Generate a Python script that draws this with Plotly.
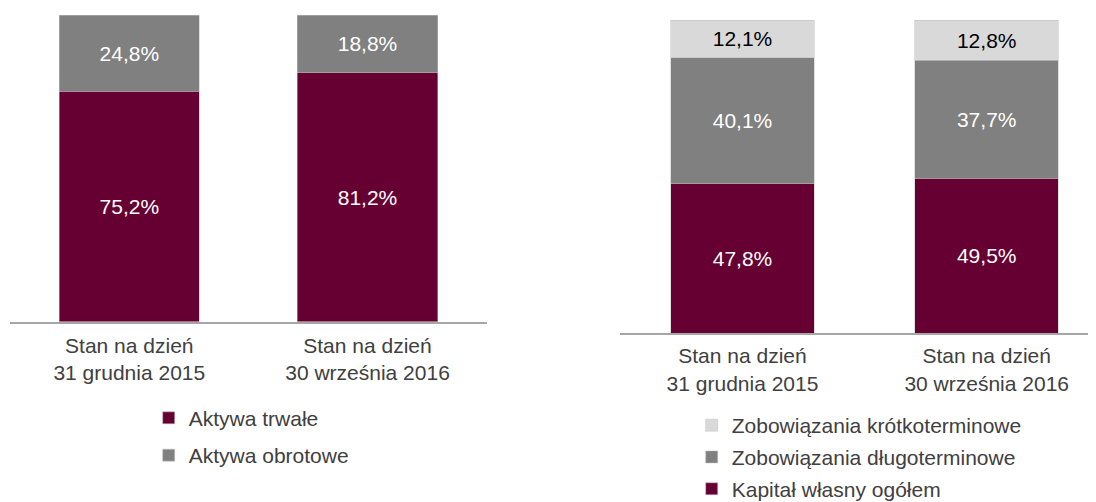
import plotly.graph_objects as go

# ---- data ----
categories = ["Stan na dzień<br>31 grudnia 2015", "Stan na dzień<br>30 września 2016"]
aktywa_trwale = [75.2, 81.2]
aktywa_obrotowe = [24.8, 18.8]
kapital_wlasny = [47.8, 49.5]
zobowiazania_dlugo = [40.1, 37.7]
zobowiazania_krotko = [12.1, 12.8]

PURPLE = "#660033"
GREY = "#808080"
LIGHT = "#d9d9d9"
TEXT = "#404040"
FONT = "Liberation Sans, Arial, sans-serif"

# the page body has an 8px default margin; the figure is sized so it ends at the window edge
OFF = 8
W, H = 1096 - OFF, 502 - OFF


def px(x):
    return (x - OFF) / W


def py(y):
    return 1 - (y - OFF) / H


def fmt(vals):
    return [f"{v:.1f}%".replace(".", ",") for v in vals]


def bar(name, y, color, txtcolor, xa, ya, legend, group, rank):
    return go.Bar(
        name=name, x=categories, y=y, text=fmt(y),
        marker=dict(color=color, line=dict(color="#bfbfbf", width=0.5)),
        textposition="inside", insidetextanchor="middle", textangle=0,
        constraintext="none",
        textfont=dict(family=FONT, size=21, color=txtcolor),
        xaxis=xa, yaxis=ya, legend=legend, legendgroup=group, legendrank=rank,
        hoverinfo="skip",
    )


fig = go.Figure()
fig.add_trace(bar("Aktywa trwałe", aktywa_trwale, PURPLE, "white", "x", "y", "legend", "a1", 1))
fig.add_trace(bar("Aktywa obrotowe", aktywa_obrotowe, GREY, "white", "x", "y", "legend", "a2", 2))
fig.add_trace(bar("Kapitał własny ogółem", kapital_wlasny, PURPLE, "white", "x2", "y2", "legend2", "b1", 3))
fig.add_trace(bar("Zobowiązania długoterminowe", zobowiazania_dlugo, GREY, "white", "x2", "y2", "legend2", "b2", 2))
fig.add_trace(bar("Zobowiązania krótkoterminowe", zobowiazania_krotko, LIGHT, "black", "x2", "y2", "legend2", "b3", 1))

xcommon = dict(type="category", showline=True, linecolor="#a6a6a6", linewidth=1.5,
               ticks="", showgrid=False, zeroline=False, fixedrange=True, automargin=False,
               tickfont=dict(family=FONT, size=21, color=TEXT))
ycommon = dict(range=[0, 100], visible=False, showgrid=False, zeroline=False,
               fixedrange=True, automargin=False)

legcommon = dict(xanchor="left", yanchor="top", font=dict(family=FONT, size=21, color=TEXT),
                 bgcolor="rgba(0,0,0,0)", borderwidth=0, traceorder="grouped")

fig.update_layout(
    width=W, height=H,
    margin=dict(l=0, r=0, t=0, b=0, pad=0, autoexpand=False),
    paper_bgcolor="white", plot_bgcolor="white",
    barmode="stack", bargap=0.412,
    font=dict(family=FONT, color=TEXT),
    xaxis=dict(domain=[px(10.2), px(486.6)], range=[-0.5, 1.5], anchor="y",
               ticklabelstandoff=4, **xcommon),
    yaxis=dict(domain=[py(321.7), py(15)], anchor="x", **ycommon),
    xaxis2=dict(domain=[px(620.4), 1], range=[-0.5, 1.5 - (1108.8 - 1096) / 244.2], anchor="y2",
                ticklabelstandoff=3, **xcommon),
    yaxis2=dict(domain=[py(333.3), py(20)], anchor="x2", **ycommon),
    legend=dict(x=px(148.7), y=py(397.7), tracegroupgap=7, **legcommon),
    legend2=dict(x=px(691.7), y=py(405), tracegroupgap=1.5, **legcommon),
    showlegend=True,
)

fig.write_html("out.html")
